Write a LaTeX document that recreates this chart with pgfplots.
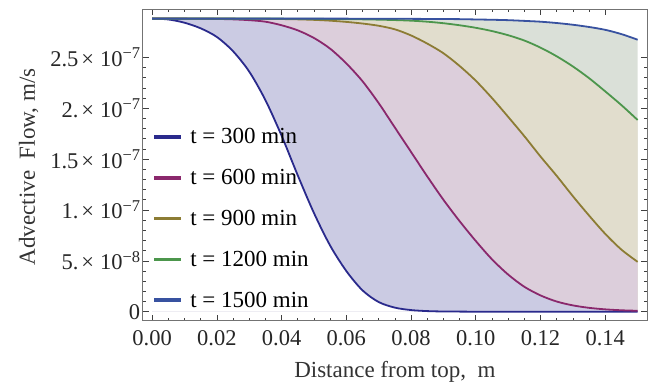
\documentclass[border=0pt]{standalone}
\usepackage{fontspec}
\setmainfont{Liberation Serif}
\usepackage{pgfplots}
\pgfplotsset{compat=1.18}
\usepackage{pgfplotstable}

% line colours of the five times
\definecolor{cA}{RGB}{42,42,140}
\definecolor{cB}{RGB}{138,40,108}
\definecolor{cC}{RGB}{140,124,52}
\definecolor{cD}{RGB}{76,150,76}
\definecolor{cE}{RGB}{56,82,160}
% fills between neighbouring curves
\definecolor{fA}{RGB}{203,203,227}
\definecolor{fB}{RGB}{220,206,219}
\definecolor{fC}{RGB}{225,221,205}
\definecolor{fD}{RGB}{218,224,216}

% mantissa x 10^exponent, as tick text
\newcommand{\sci}[2]{{\fontsize{22.5}{27}\selectfont
  #1\hspace{3pt}×\hspace{6pt}10\raisebox{7.5pt}{\fontsize{16.5}{18}\selectfont −#2}}}

% advective flow (in 1e-7 m/s) against depth (m)
\pgfplotstableread{
x      t300   t600   t900   t1200  t1500
0.000  2.880  2.880  2.880  2.880  2.880
0.005  2.872  2.880  2.880  2.880  2.880
0.010  2.840  2.880  2.880  2.880  2.880
0.015  2.785  2.879  2.880  2.880  2.880
0.020  2.700  2.877  2.880  2.880  2.880
0.025  2.560  2.873  2.880  2.880  2.880
0.030  2.360  2.865  2.879  2.880  2.880
0.035  2.080  2.850  2.878  2.880  2.880
0.040  1.730  2.815  2.876  2.880  2.880
0.045  1.340  2.765  2.873  2.879  2.880
0.050  0.970  2.690  2.868  2.878  2.880
0.055  0.650  2.585  2.860  2.877  2.880
0.060  0.400  2.440  2.848  2.875  2.880
0.065  0.210  2.265  2.832  2.873  2.879
0.070  0.095  2.050  2.810  2.870  2.879
0.075  0.040  1.810  2.775  2.866  2.878
0.080  0.016  1.570  2.715  2.860  2.878
0.085  0.006  1.330  2.635  2.850  2.877
0.090  0.002  1.100  2.540  2.835  2.876
0.095  0.001  0.890  2.415  2.815  2.875
0.100  0.000  0.695  2.270  2.790  2.872
0.105  0.000  0.515  2.100  2.758  2.869
0.110  0.000  0.365  1.915  2.717  2.865
0.115  0.000  0.245  1.725  2.665  2.858
0.120  0.000  0.160  1.525  2.595  2.850
0.125  0.000  0.100  1.335  2.510  2.837
0.130  0.000  0.062  1.135  2.410  2.820
0.135  0.000  0.038  0.945  2.295  2.798
0.140  0.000  0.023  0.765  2.165  2.770
0.145  0.000  0.014  0.610  2.030  2.728
0.150  0.000  0.009  0.490  1.884  2.673
}\flow

\begin{document}
\begin{tikzpicture}
\begin{axis}[
  width=504.3pt, height=311.7pt, scale only axis,
  font=\fontsize{23}{27}\selectfont,
  xmin=-0.0029, xmax=0.1529,
  ymin=-0.0884, ymax=2.9747,
  xtick={0,0.02,0.04,0.06,0.08,0.10,0.12,0.14},
  xticklabels={0.00,0.02,0.04,0.06,0.08,0.10,0.12,0.14},
  ytick={0,0.5,1,1.5,2,2.5},
  yticklabels={{\fontsize{22.5}{27}\selectfont 0},
    \sci{5.}{8}, \sci{1.}{7}, \sci{1.5}{7}, \sci{2.}{7}, \sci{2.5}{7}},
  minor x tick num=3, minor y tick num=4,
  tick align=inside,
  major tick length=6pt, minor tick length=3pt,
  tick style={black!75, line width=0.6pt},
  axis line style={black!55, line width=0.8pt},
  tick label style={font=\fontsize{22.5}{27}\selectfont},
  xticklabel style={text=black!85, yshift=-6pt},
  yticklabel style={text=black!85, xshift=1pt},
  xlabel={Distance from top,\ \ m},
  ylabel={Advective\ \ Flow, m/s},
  xlabel style={at={(rel axis cs:0.5,-0.1827)}, anchor=base, text=black!80},
  ylabel style={at={(rel axis cs:-0.2263,0.4936)}, anchor=center, text=black!80},
  legend cell align=left,
  legend style={draw=none, fill=none, inner sep=0pt,
    at={(rel axis cs:0.0228,0.6234)}, anchor=north west,
    row sep=20pt, font=\fontsize{23}{27}\selectfont},
  legend image code/.code={%
    \fill (0pt,-0.95pt) rectangle (25pt,0.95pt);
    \path[draw=none, fill=none] (0pt,-3pt) rectangle (33pt,3pt);},
]
% stacked fills, topmost curve first
\addplot[draw=none, fill=fD, forget plot] table[x=x, y=t1500] {\flow} \closedcycle;
\addplot[draw=none, fill=fC, forget plot] table[x=x, y=t1200] {\flow} \closedcycle;
\addplot[draw=none, fill=fB, forget plot] table[x=x, y=t900] {\flow} \closedcycle;
\addplot[draw=none, fill=fA, forget plot] table[x=x, y=t600] {\flow} \closedcycle;
\addplot[draw=none, fill=white, forget plot] table[x=x, y=t300] {\flow} \closedcycle;
% the curves
\addplot[cA, line width=1.8pt, smooth] table[x=x, y=t300] {\flow};
\addlegendentry{t = 300 min}
\addplot[cB, line width=1.8pt, smooth] table[x=x, y=t600] {\flow};
\addlegendentry{t = 600 min}
\addplot[cC, line width=1.8pt, smooth] table[x=x, y=t900] {\flow};
\addlegendentry{t = 900 min}
\addplot[cD, line width=1.8pt, smooth] table[x=x, y=t1200] {\flow};
\addlegendentry{t = 1200 min}
\addplot[cE, line width=1.8pt, smooth] table[x=x, y=t1500] {\flow};
\addlegendentry{t = 1500 min}
\path (rel axis cs:-0.283,-0.2063) coordinate (bbA)
      (rel axis cs:1.0119,1.0289) coordinate (bbB);
\end{axis}
\pgfresetboundingbox
\path[use as bounding box] (bbA) rectangle (bbB);
\end{tikzpicture}
\end{document}
